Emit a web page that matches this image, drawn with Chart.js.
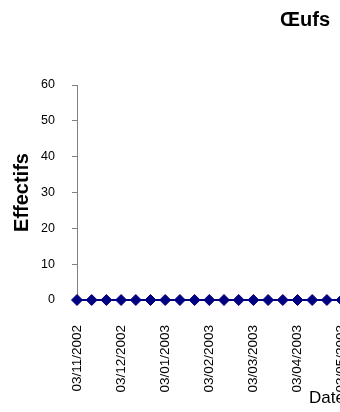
<!DOCTYPE html>
<html lang="fr">
<head>
<meta charset="utf-8">
<title>Œufs</title>
<script src="https://cdn.jsdelivr.net/npm/chart.js@4.4.1/dist/chart.umd.min.js"></script>
<style>
  html, body { margin: 0; padding: 0; background: #ffffff; overflow: hidden; }
  #wrap { width: 610px; height: 412px; }
</style>
</head>
<body>
<div id="wrap"><canvas id="chart" width="610" height="412"></canvas></div>
<script>
// Sampling dates (every ~10 days) and counts of eggs
const dates = [
  '03/11/2002', '13/11/2002', '23/11/2002',
  '03/12/2002', '13/12/2002', '23/12/2002',
  '03/01/2003', '13/01/2003', '23/01/2003',
  '03/02/2003', '13/02/2003', '23/02/2003',
  '03/03/2003', '13/03/2003', '23/03/2003',
  '03/04/2003', '13/04/2003', '23/04/2003',
  '03/05/2003', '13/05/2003', '23/05/2003',
  '03/06/2003', '13/06/2003', '23/06/2003',
  '03/07/2003', '13/07/2003', '23/07/2003',
  '03/08/2003', '13/08/2003', '23/08/2003',
  '03/09/2003', '13/09/2003', '23/09/2003',
  '03/10/2003', '13/10/2003'
];
const effectifs = [
  0, 0, 0, 0, 0, 0, 0, 0, 0, 0, 0, 0, 0, 0, 0, 0, 0, 0,
  0, 0, 0, 0, 0, 0, 0, 0, 0, 0, 0, 0, 0, 0, 0, 0, 0
];
const yTicks = { min: 0, max: 60, step: 10 };
const labelEvery = 3;

const NAVY = '#000080';
const AXIS = '#808080';
const FONT = "'Liberation Sans', Arial, sans-serif";

new Chart(document.getElementById('chart'), {
  type: 'line',
  data: {
    labels: dates,
    datasets: [{
      label: 'Œufs',
      data: effectifs,
      borderColor: NAVY,
      backgroundColor: NAVY,
      borderWidth: 2,
      pointStyle: 'rectRot',
      pointRadius: 5.5,
      pointBorderWidth: 1,
      pointBackgroundColor: NAVY,
      pointBorderColor: NAVY,
      tension: 0,
      clip: false
    }]
  },
  options: {
    responsive: false,
    devicePixelRatio: 1,
    animation: false,
    events: [],
    layout: { padding: 0 },
    plugins: {
      legend: { display: false },
      tooltip: { enabled: false },
      title: {
        display: true,
        text: 'Œufs',
        color: '#000000',
        font: { family: FONT, size: 20, weight: 'bold', lineHeight: 1.2 },
        padding: { top: 8, bottom: 53 }
      }
    },
    scales: {
      x: {
        type: 'category',
        offset: false,
        grid: { display: false },
        border: { display: true, color: AXIS, width: 1 },
        ticks: {
          autoSkip: false,
          minRotation: 90,
          maxRotation: 90,
          padding: 17,
          color: '#000000',
          font: { family: FONT, size: 13.5 },
          callback: function (value, index) {
            return index % labelEvery === 0 ? this.getLabelForValue(value) : '';
          }
        },
        title: {
          display: true,
          text: 'Date',
          color: '#000000',
          font: { family: FONT, size: 17 },
          padding: { top: 0, bottom: 3 }
        },
        afterFit: (scale) => { scale.height = 112; }
      },
      y: {
        min: yTicks.min,
        max: yTicks.max,
        grid: {
          display: true,
          drawOnChartArea: false,
          drawTicks: true,
          tickLength: 5,
          color: AXIS
        },
        border: { display: true, color: AXIS, width: 1 },
        ticks: {
          stepSize: yTicks.step,
          padding: 17,
          color: '#000000',
          font: { family: FONT, size: 12.5 }
        },
        title: {
          display: true,
          text: 'Effectifs',
          color: '#000000',
          font: { family: FONT, size: 20, weight: 'bold', lineHeight: 1.2 },
          padding: { top: 10, bottom: 0 }
        },
        afterFit: (scale) => { scale.width = 77; }
      },
      // empty right-hand margin of the plot frame
      margin: {
        type: 'linear',
        position: 'right',
        display: true,
        grid: { display: false },
        border: { display: false },
        ticks: { display: false },
        afterFit: (scale) => { scale.width = 18; }
      }
    }
  }
});
</script>
</body>
</html>
